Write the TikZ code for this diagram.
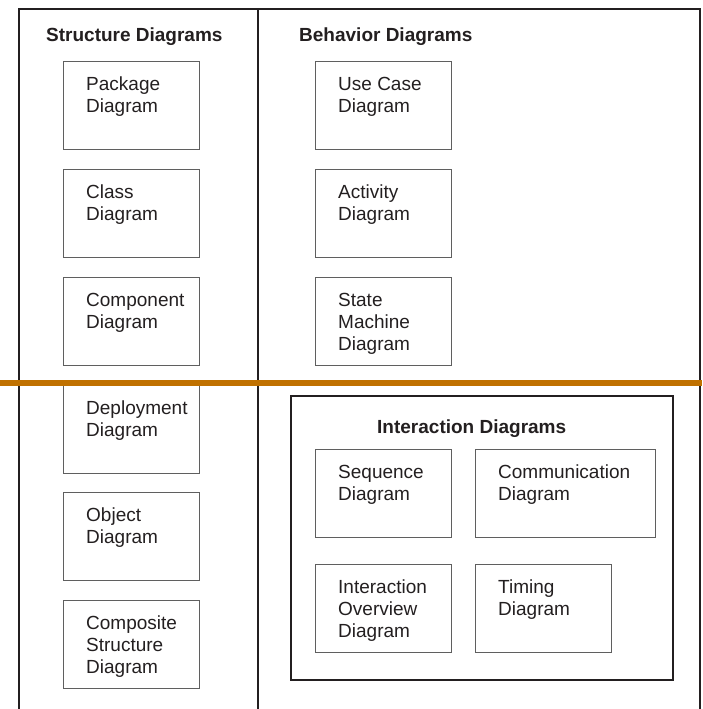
\documentclass[tikz,border=0pt]{standalone}
\usepackage{fontspec}
\setmainfont{Liberation Sans}
\definecolor{inkgray}{RGB}{35,31,32}
\definecolor{boxgray}{RGB}{95,95,95}
\definecolor{rulebrown}{RGB}{192,113,0}
\newcommand\umlbox[4]{%
  \node[diagbox] (#1) at (#2,#3) {};
  \node[boxtext] (#1-t) at ([shift={(23pt,-13.6pt)}]#1.north west) {\strut #4};}
\begin{document}
\begin{tikzpicture}[x=1pt,y=-1pt,
  frame/.style={draw=inkgray, line width=1.8pt},
  diagbox/.style={draw=boxgray, line width=1.2pt, minimum width=136pt,
    minimum height=88pt, anchor=north west, inner sep=0pt},
  boxtext/.style={anchor=north west, inner sep=0pt, align=left,
    font=\fontsize{19}{22}\selectfont, text=inkgray},
  heading/.style={anchor=base west, inner sep=0pt,
    font=\fontsize{19}{22}\selectfont\bfseries, text=inkgray}]
\useasboundingbox (0,0) rectangle (702,709);
\clip (0,0) rectangle (702,709);

% outer frame, open at the bottom, and the column divider
\coordinate (fbl) at (19,730);
\coordinate (ftl) at (19,9);
\coordinate (ftr) at (700,9);
\coordinate (fbr) at (700,730);
\coordinate (dtop) at (258,9);
\coordinate (dbot) at (258,730);
\draw[frame] (fbl) -- (ftl) -- (ftr) -- (fbr);
\draw[frame] (dtop) -- (dbot);

% headings
\node[heading] (structure) at (46,42) {Structure Diagrams};
\node[heading] (behavior) at (299,42) {Behavior Diagrams};

% structure diagrams
\umlbox{package}{63}{61}{Package\\Diagram}
\umlbox{class}{63}{169}{Class\\Diagram}
\umlbox{component}{63}{277}{Component\\Diagram}
\umlbox{deployment}{63}{385}{Deployment\\Diagram}
\umlbox{object}{63}{492}{Object\\Diagram}
\umlbox{composite}{63}{600}{Composite\\Structure\\Diagram}

% behavior diagrams
\umlbox{usecase}{315}{61}{Use Case\\Diagram}
\umlbox{activity}{315}{169}{Activity\\Diagram}
\umlbox{statemachine}{315}{277}{State\\Machine\\Diagram}

% interaction diagrams
\node[frame, anchor=north west, inner sep=0pt, minimum width=382pt,
  minimum height=284pt] (interaction) at (290,395) {};
\node[heading] (interaction-t) at (377,433) {Interaction Diagrams};
\umlbox{sequence}{315}{449}{Sequence\\Diagram}
\node[diagbox, minimum width=180pt] (communication) at (475,449) {};
\node[boxtext] (communication-t) at ([shift={(23pt,-13.6pt)}]communication.north west) {\strut Communication\\Diagram};
\umlbox{overview}{315}{564}{Interaction\\Overview\\Diagram}
\umlbox{timing}{475}{564}{Timing\\Diagram}

% horizontal rule across the whole figure
\coordinate (rl) at (0,383);
\coordinate (rr) at (702,383);
\draw[rulebrown, line width=6.5pt] (rl) -- (rr);
\end{tikzpicture}
\end{document}
